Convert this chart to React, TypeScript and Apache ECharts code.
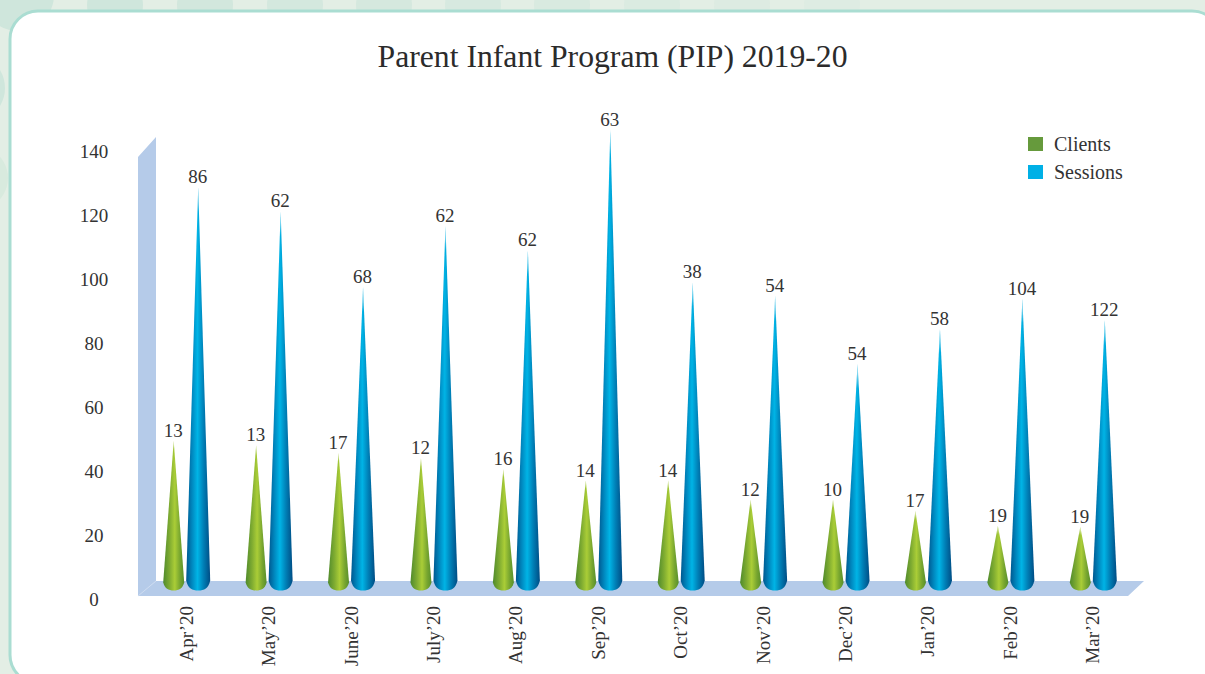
import React, { useEffect, useRef } from "react";
import * as echarts from "echarts";

const title = "Parent Infant Program (PIP) 2019-20";
const months = ["Apr’20", "May’20", "June’20", "July’20", "Aug’20", "Sep’20", "Oct’20", "Nov’20", "Dec’20", "Jan’20", "Feb’20", "Mar’20"];
// Cone heights
const clientHeights = [49.4, 48, 45.6, 44, 40.6, 37, 37, 31, 31, 27.5, 22.8, 22.5];
const sessionHeights = [128.7, 121.2, 97.5, 116.6, 109, 146.6, 99, 94.7, 73.4, 84.4, 93.8, 87.2];
// Figures printed above the cones
const clientLabels = [13, 13, 17, 12, 16, 14, 14, 12, 10, 17, 19, 19];
const sessionLabels = [86, 62, 68, 62, 62, 63, 38, 54, 54, 58, 104, 122];
const floorValue = 3;

const FONT = "'Liberation Serif', serif";
const INK = "#333333";

echarts.graphic.registerShape(
  "cone",
  echarts.graphic.extendShape({
    shape: { x: 0, tip: 0, base: 0, hw: 10, sh: 7 },
    buildPath(ctx: any, s: any) {
      const shoulder = s.base - s.sh;
      ctx.moveTo(s.x, s.tip);
      ctx.lineTo(s.x + s.hw, shoulder);
      ctx.bezierCurveTo(s.x + s.hw * 0.85, s.base - 1, s.x + s.hw * 0.5, s.base + 1, s.x, s.base + 1);
      ctx.bezierCurveTo(s.x - s.hw * 0.5, s.base + 1, s.x - s.hw * 0.85, s.base - 1, s.x - s.hw, shoulder);
      ctx.closePath();
    },
  })
);

const hGrad = (stops: [number, string][]) =>
  new echarts.graphic.LinearGradient(0, 0, 1, 0, stops.map(([offset, color]) => ({ offset, color })));

const greenStops: [number, string][] = [
  [0, "#4f8a2c"],
  [0.3, "#7eab31"],
  [0.55, "#aacd37"],
  [0.8, "#77a52f"],
  [1, "#578f2c"],
];
const blueStops: [number, string][] = [
  [0, "#00578f"],
  [0.25, "#0089c0"],
  [0.47, "#00b4e6"],
  [0.72, "#007fb6"],
  [1, "#004c84"],
];

const coneSeries = (
  name: string,
  heights: number[],
  labels: number[],
  offset: number,
  hw: number,
  sh: number,
  fadePx: number,
  stops: [number, string][],
  legendColor: string
) => ({
  type: "custom",
  name,
  clip: false,
  itemStyle: { color: legendColor },
  encode: { x: 0, y: 1 },
  data: heights.map((h, i) => [i, h, labels[i]]),
  renderItem: (_p: any, api: any) => {
    const x = api.coord([api.value(0), 0])[0] + offset;
    const tip = api.coord([0, api.value(1)])[1];
    const base = api.coord([0, floorValue])[1];
    const fade = Math.min(0.5, fadePx / (base - tip));
    return {
      type: "group",
      children: [
        {
          type: "cone",
          shape: { x, tip, base, hw, sh },
          style: { fill: hGrad(stops) },
        },
        {
          type: "cone",
          shape: { x, tip, base, hw, sh },
          style: {
            fill: new echarts.graphic.LinearGradient(0, 0, 0, 1, [
              { offset: 0, color: "rgba(255,255,255,0.8)" },
              { offset: fade, color: "rgba(255,255,255,0)" },
              { offset: 1, color: "rgba(255,255,255,0)" },
            ]),
          },
        },
        {
          type: "text",
          style: {
            text: String(api.value(2)),
            x: x - 0.5,
            y: tip - 1,
            align: "center",
            verticalAlign: "bottom",
            fill: INK,
            font: `19px ${FONT}`,
          },
        },
      ],
    };
  },
});

const topCircles = [115, 205, 295, 384, 473, 562, 652, 742, 832];

export default function App() {
  const ref = useRef<HTMLDivElement>(null);
  useEffect(() => {
    const chart = echarts.init(ref.current!, undefined, { renderer: "svg" });
    chart.setOption({
      animation: false,
      backgroundColor: "#e3eee5",
      title: {
        text: title,
        left: 607.5,
        top: 35,
        textAlign: "center",
        textStyle: { fontFamily: FONT, fontSize: 31.7, fontWeight: "normal", color: "#2b2b2b" },
      },
      legend: {
        orient: "vertical",
        left: 1023,
        top: 129,
        itemWidth: 15,
        itemHeight: 14,
        itemGap: 8,
        icon: "rect",
        selectedMode: false,
        textStyle: { fontFamily: FONT, fontSize: 20, color: INK, padding: [0, 0, 0, 6] },
        data: [
          { name: "Clients", itemStyle: { color: "#669a3c" } },
          { name: "Sessions", itemStyle: { color: "#00b0e6" } },
        ],
      },
      grid: { left: 145, width: 989, top: 151, height: 448 },
      xAxis: {
        type: "category",
        data: months,
        axisLine: { show: false },
        axisTick: { show: false },
        axisLabel: { rotate: 90, interval: 0, margin: 7, padding: [0, 0, 2, 0], fontFamily: FONT, fontSize: 19, color: INK },
      },
      yAxis: {
        type: "value",
        min: 0,
        max: 140,
        interval: 20,
        axisLine: { show: false },
        axisTick: { show: false },
        splitLine: { show: false },
        axisLabel: { align: "center", margin: 51, padding: [2, 0, 0, 0], fontFamily: FONT, fontSize: 19, color: INK },
      },
      graphic: [
        { type: "circle", shape: { cx: 18, cy: -5, r: 36 }, style: { fill: "#cfe6dc" } },
        ...topCircles.map((cx, i) => ({
          type: "circle",
          shape: { cx, cy: 5, r: 28 },
          style: { fill: "#cfe6dc", opacity: 1 - i * 0.1 },
        })),
        { type: "circle", shape: { cx: -30, cy: 88, r: 35 }, style: { fill: "#cfe6dc" } },
        { type: "circle", shape: { cx: -24, cy: 178, r: 32 }, style: { fill: "#d8eade" } },
        {
          type: "rect",
          shape: { x: 10, y: 11, width: 1210, height: 672, r: 28 },
          style: { fill: "#ffffff", stroke: "#aaddd2", lineWidth: 3 },
        },
        {
          type: "polygon",
          shape: { points: [[138, 157], [156, 137], [156, 581], [1144, 581], [1128, 596], [138, 596]] },
          style: { fill: "#b5cbe9" },
        },
        {
          type: "line",
          shape: { x1: 138, y1: 596, x2: 156, y2: 581 },
          style: { stroke: "#cfddf1", lineWidth: 1 },
        },
      ],
      series: [
        coneSeries("Clients", clientHeights, clientLabels, -12.5, 10.5, 7, 8, greenStops, "#669a3c"),
        coneSeries("Sessions", sessionHeights, sessionLabels, 12, 12, 9, 24, blueStops, "#00b0e6"),
      ],
    });
    return () => chart.dispose();
  }, []);
  return <div ref={ref} style={{ position: "fixed", left: 0, top: 0, width: 1205, height: 674 }} />;
}
